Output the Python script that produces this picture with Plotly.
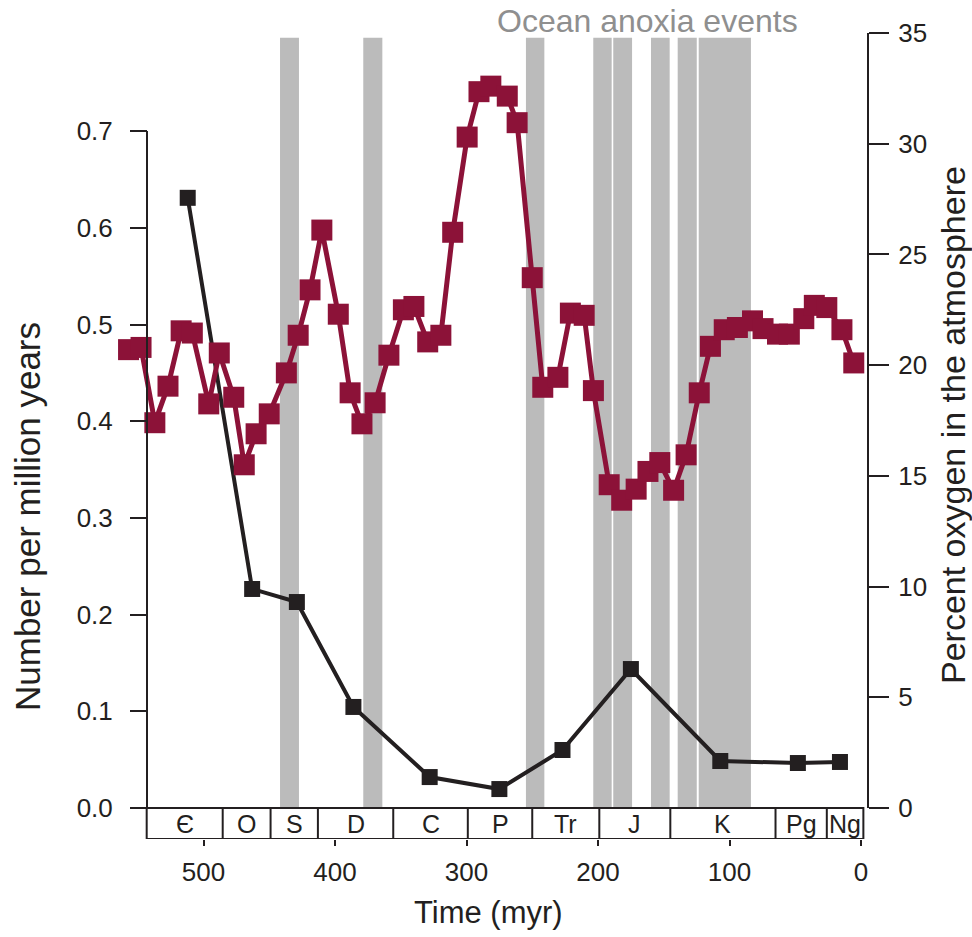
import plotly.graph_objects as go

# ---------------- data ----------------
# Oxygen (% of atmosphere), right axis
oxy_time = [557, 547.5, 537, 527, 517, 508.5, 496, 488, 477, 469, 460, 450, 437, 428,
            419, 410, 397.5, 388.5, 379.5, 369.5, 359, 348, 340, 329.5, 319.5, 310.5,
            299.5, 290.5, 281.5, 269, 261.5, 250, 242, 230.5, 221, 210.5, 203.5, 191.5,
            182, 171, 162, 153, 142.5, 133, 123, 114.5, 104, 94, 82.5, 74.5, 63.5, 54.5,
            43.5, 35.5, 26, 14.5, 5.5]
oxy_pct = [20.7, 20.8, 17.4, 19.05, 21.55, 21.45, 18.25, 20.55, 18.55, 15.5, 16.9, 17.8,
           19.65, 21.35, 23.4, 26.1, 22.3, 18.75, 17.35, 18.3, 20.45, 22.5, 22.65, 21.05,
           21.35, 26.0, 30.3, 32.35, 32.6, 32.15, 30.95, 23.95, 19.0, 19.45, 22.35, 22.25,
           18.85, 14.6, 13.9, 14.4, 15.2, 15.6, 14.35, 15.95, 18.75, 20.85, 21.6, 21.7,
           22.0, 21.65, 21.4, 21.4, 22.1, 22.7, 22.6, 21.6, 20.1]

# Number per million years, left axis
rate_time = [512, 463, 429, 386, 328, 275, 227, 175, 107, 48, 16]
rate_val = [0.631, 0.2265, 0.213, 0.1045, 0.032, 0.0196, 0.060, 0.1437, 0.0486, 0.0465, 0.0476]

# Ocean anoxia events (myr)
anoxia_start = [441.8, 378.5, 254.8, 203.6, 188.4, 159.7, 139.4, 123.4]
anoxia_end = [427.4, 364.0, 240.8, 189.6, 174.1, 145.5, 124.9, 83.7]

# Geological periods
period_names = ["Є", "O", "S", "D", "C", "P", "Tr", "J", "K", "Pg", "Ng"]
period_bounds = [543.2, 485.4, 449.0, 413.0, 355.7, 299.0, 250.0, 199.0, 145.0, 65.0, 26.0, -1.8]

left_ticks = [0.0, 0.1, 0.2, 0.3, 0.4, 0.5, 0.6, 0.7]
right_ticks = [0, 5, 10, 15, 20, 25, 30, 35]
x_ticks = [500, 400, 300, 200, 100, 0]

# ---------------- style ----------------
FONT = "Liberation Sans, Arial, Helvetica, sans-serif"
INK = "#231f20"
RED = "#8c1238"
GREY_BAR = "#bbbbbb"

W, H = 972, 937
L, R, T, B = 110, 868, 33, 839
YAX_PX = 147

fig = go.Figure()

fig.add_trace(go.Scatter(
    x=oxy_time, y=oxy_pct, yaxis="y2", mode="lines+markers",
    line=dict(color=RED, width=5),
    marker=dict(symbol="square", size=21, color=RED),
    cliponaxis=False, showlegend=False, hoverinfo="skip"))

fig.add_trace(go.Scatter(
    x=rate_time, y=rate_val, yaxis="y", mode="lines+markers",
    line=dict(color=INK, width=4),
    marker=dict(symbol="square", size=16, color=INK),
    cliponaxis=False, showlegend=False, hoverinfo="skip"))

shapes = []
# anoxia bars
for a, b in zip(anoxia_start, anoxia_end):
    shapes.append(dict(type="rect", xref="x", yref="y2", x0=a, x1=b, y0=0, y1=34.78,
                       fillcolor=GREY_BAR, line=dict(width=0), layer="below"))

ybot = -(B - 808) / 967.0
# period box
shapes.append(dict(type="rect", xref="x", yref="y", x0=period_bounds[0], x1=period_bounds[-1],
                   y0=ybot, y1=0, line=dict(color=INK, width=2), fillcolor="rgba(0,0,0,0)"))
for bnd in period_bounds[1:-1]:
    shapes.append(dict(type="line", xref="x", yref="y", x0=bnd, x1=bnd, y0=ybot, y1=0,
                       line=dict(color=INK, width=2)))
# left axis line
xpos = (YAX_PX - L) / (R - L)
shapes.append(dict(type="line", xref="paper", yref="y", x0=xpos, x1=xpos, y0=0, y1=0.7,
                   line=dict(color=INK, width=2)))
# right axis line
shapes.append(dict(type="line", xref="paper", yref="y2", x0=1, x1=1, y0=0, y1=35,
                   line=dict(color=INK, width=2)))

annotations = []
for i, name in enumerate(period_names):
    xc = (period_bounds[i] + period_bounds[i + 1]) / 2
    annotations.append(dict(x=xc, y=ybot / 2, xref="x", yref="y", text=name, showarrow=False,
                            font=dict(family=FONT, size=25, color=INK),
                            xanchor="center", yanchor="middle"))


def px_x(p):
    return (p - L) / (R - L)


def px_y(p):
    return (B - p) / (B - T)


annotations.append(dict(x=px_x(27), y=px_y(517), xref="paper", yref="paper",
                        text="Number per million years", textangle=-90, showarrow=False,
                        font=dict(family=FONT, size=35, color=INK), xanchor="center", yanchor="middle"))
annotations.append(dict(x=px_x(953), y=px_y(425), xref="paper", yref="paper",
                        text="Percent oxygen in the atmosphere", textangle=-90, showarrow=False,
                        font=dict(family=FONT, size=34, color=INK), xanchor="center", yanchor="middle"))
annotations.append(dict(x=px_x(488), y=px_y(912), xref="paper", yref="paper",
                        text="Time (myr)", showarrow=False,
                        font=dict(family=FONT, size=31, color=INK), xanchor="center", yanchor="middle"))
annotations.append(dict(x=px_x(647), y=px_y(21), xref="paper", yref="paper",
                        text="Ocean anoxia events", showarrow=False,
                        font=dict(family=FONT, size=32, color="#8f8f8f"), xanchor="center", yanchor="middle"))

x_lo = (861 - L) / 1.315
x_hi = (861 - R) / 1.315

fig.update_layout(
    width=W, height=H,
    margin=dict(l=L, r=W - R, t=T, b=H - B, pad=0),
    paper_bgcolor="white", plot_bgcolor="white",
    font=dict(family=FONT, color=INK),
    showlegend=False,
    xaxis=dict(range=[x_lo, x_hi], tickvals=x_ticks, ticktext=[str(v) for v in x_ticks],
               ticks="outside", ticklen=6, tickwidth=2, tickcolor=INK,
               showline=False, showgrid=False, zeroline=False,
               tickfont=dict(family=FONT, size=26, color=INK), ticklabelstandoff=4),
    yaxis=dict(range=[ybot, (808 - T) / 967.0], anchor="free", position=xpos,
               tickvals=left_ticks, ticktext=["%.1f" % v for v in left_ticks],
               ticks="outside", ticklen=17, tickwidth=2, tickcolor=INK,
               showline=False, showgrid=False, zeroline=False,
               tickfont=dict(family=FONT, size=26, color=INK), ticklabelstandoff=12),
    yaxis2=dict(range=[-(B - 808) / 22.14, 35.0], overlaying="y", side="right", anchor="x",
                tickvals=right_ticks, ticktext=[str(v) for v in right_ticks],
                ticks="outside", ticklen=20, tickwidth=2, tickcolor=INK,
                showline=False, showgrid=False, zeroline=False,
                tickfont=dict(family=FONT, size=26, color=INK), ticklabelstandoff=4),
    shapes=shapes,
    annotations=annotations,
)

fig.write_html("out.html")
